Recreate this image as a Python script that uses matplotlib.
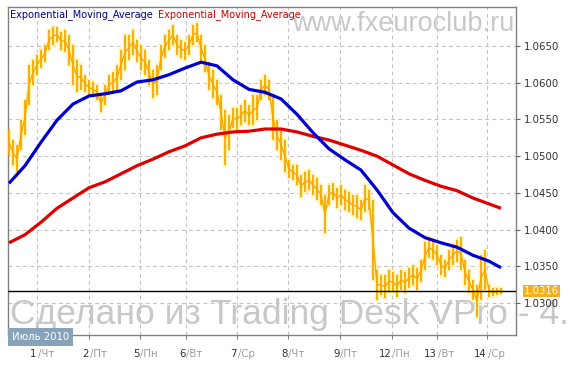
import numpy as np
import matplotlib
matplotlib.use("Agg")
import matplotlib.pyplot as plt
from matplotlib.transforms import blended_transform_factory, offset_copy

# ---------------- data ----------------
price_high = [1.0536, 1.0522, 1.0515, 1.0549, 1.0577, 1.0624, 1.0631, 1.0638, 1.0645, 1.0651,
              1.0672, 1.0676, 1.0676, 1.0669, 1.0672, 1.0665, 1.0651, 1.0631, 1.0624, 1.0611,
              1.0604, 1.0601, 1.0597, 1.0583, 1.0597, 1.0611, 1.0615, 1.0624, 1.0645, 1.0665,
              1.0665, 1.0672, 1.0658, 1.0651, 1.0645, 1.0631, 1.0617, 1.0624, 1.0651, 1.0665,
              1.0672, 1.0679, 1.0665, 1.0658, 1.0656, 1.0665, 1.0679, 1.0681, 1.0665, 1.0651,
              1.0628, 1.0617, 1.0604, 1.0583, 1.0563, 1.0556, 1.0566, 1.0566, 1.0570, 1.0577,
              1.0570, 1.0583, 1.0583, 1.0604, 1.0611, 1.0604, 1.0583, 1.0549, 1.0536, 1.0522,
              1.0495, 1.0488, 1.0488, 1.0474, 1.0478, 1.0481, 1.0474, 1.0470, 1.0461, 1.0447,
              1.0461, 1.0463, 1.0457, 1.0461, 1.0454, 1.0451, 1.0447, 1.0447, 1.0440, 1.0461,
              1.0454, 1.0440, 1.0345, 1.0338, 1.0338, 1.0345, 1.0342, 1.0338, 1.0345, 1.0342,
              1.0348, 1.0352, 1.0348, 1.0359, 1.0383, 1.0390, 1.0386, 1.0379, 1.0365, 1.0359,
              1.0372, 1.0379, 1.0386, 1.0390, 1.0359, 1.0345, 1.0331, 1.0325, 1.0365, 1.0372,
              1.0325, 1.0320, 1.0321, 1.0320]
price_low = [1.0502, 1.0488, 1.0478, 1.0508, 1.0529, 1.0570, 1.0597, 1.0611, 1.0620, 1.0628,
             1.0645, 1.0651, 1.0656, 1.0645, 1.0642, 1.0624, 1.0597, 1.0587, 1.0590, 1.0587,
             1.0583, 1.0582, 1.0577, 1.0560, 1.0570, 1.0583, 1.0587, 1.0590, 1.0604, 1.0617,
             1.0631, 1.0638, 1.0628, 1.0617, 1.0611, 1.0597, 1.0579, 1.0583, 1.0617, 1.0634,
             1.0645, 1.0651, 1.0638, 1.0634, 1.0631, 1.0638, 1.0651, 1.0656, 1.0628, 1.0615,
             1.0590, 1.0579, 1.0570, 1.0536, 1.0488, 1.0508, 1.0538, 1.0533, 1.0542, 1.0547,
             1.0542, 1.0542, 1.0549, 1.0577, 1.0583, 1.0577, 1.0522, 1.0508, 1.0495, 1.0478,
             1.0470, 1.0468, 1.0461, 1.0444, 1.0451, 1.0454, 1.0447, 1.0440, 1.0434, 1.0395,
             1.0434, 1.0440, 1.0429, 1.0434, 1.0427, 1.0424, 1.0420, 1.0416, 1.0413, 1.0424,
             1.0427, 1.0331, 1.0304, 1.0311, 1.0307, 1.0315, 1.0315, 1.0308, 1.0318, 1.0314,
             1.0320, 1.0325, 1.0318, 1.0329, 1.0345, 1.0361, 1.0359, 1.0352, 1.0338, 1.0335,
             1.0345, 1.0352, 1.0356, 1.0345, 1.0325, 1.0314, 1.0304, 1.0281, 1.0304, 1.0318,
             1.0308, 1.0310, 1.0311, 1.0312]

ema_bars = [0, 4, 8, 12, 16, 20, 24, 28, 32, 36, 40, 44, 48, 52, 56, 60,
            64, 68, 72, 76, 80, 84, 88, 92, 96, 100, 104, 108, 112, 116, 120, 123]
ema_blue = [1.0463, 1.0487, 1.0519, 1.0549, 1.0571, 1.0582, 1.0585, 1.0589, 1.0601, 1.0604,
            1.0611, 1.0620, 1.0628, 1.0623, 1.0604, 1.0591, 1.0587, 1.0578, 1.0557, 1.0532,
            1.0510, 1.0495, 1.0481, 1.0454, 1.0423, 1.0402, 1.0389, 1.0382, 1.0376, 1.0365,
            1.0357, 1.0348]
ema_red = [1.0382, 1.0393, 1.0410, 1.0429, 1.0443, 1.0457, 1.0465, 1.0476, 1.0487, 1.0496,
           1.0506, 1.0514, 1.0525, 1.0530, 1.0533, 1.0534, 1.0537, 1.0537, 1.0533, 1.0527,
           1.0522, 1.0515, 1.0508, 1.0500, 1.0488, 1.0476, 1.0467, 1.0459, 1.0453, 1.0443,
           1.0435, 1.0429]

last_price = 1.0316
y_ticks = [1.0300, 1.0350, 1.0400, 1.0450, 1.0500, 1.0550, 1.0600, 1.0650]
day_start_bars = [7, 20, 32.75, 44.25, 57, 69.75, 82.75, 95.75, 107, 119.5]
day_numbers = ["1", "2", "5", "6", "7", "8", "9", "12", "13", "14"]
day_names = ["Чт", "Пт", "Пн", "Вт", "Ср", "Чт", "Пт", "Пн", "Вт", "Ср"]
month_label = "Июль 2010"
legend_labels = ["Exponential_Moving_Average", "Exponential_Moving_Average"]

# ---------------- figure ----------------
W, H, DPI = 570, 365, 100
fig = plt.figure(figsize=(W / DPI, H / DPI), dpi=DPI, facecolor="white")
ax = fig.add_axes([8 / W, 1 - 335 / H, 508 / W, 328 / H])
ax.set_facecolor("none")
ax.set_xlim(-0.25, 126.75)
ax.set_ylim(1.02564, 1.07032)

# watermarks (behind everything)
fig.text(514 / W, 1 - 31 / H, "www.fxeuroclub.ru", ha="right", va="baseline",
         fontsize=19.5, color="#c8c8c8", family="Liberation Sans", zorder=-10)
fig.text(10 / W, 1 - 324 / H, "Сделано из Trading Desk VPro - 4.6.", ha="left",
         va="baseline", fontsize=25.5, color="#c8c8c8", family="Liberation Sans", zorder=-10)

# grid
for d in day_start_bars:
    ax.axvline(d, color="#c4c4c4", lw=0.8, ls=(0, (3.5, 3)), zorder=1)
for t in y_ticks:
    ax.axhline(t, color="#c4c4c4", lw=0.8, ls=(0, (3.5, 3)), zorder=1)

# price bars
xb = np.arange(len(price_high))
hi = np.array(price_high)
lo = np.array(price_low)
ax.vlines(xb, lo, hi, color="#fff3b0", lw=3.2, zorder=2, capstyle="round")
ax.plot(xb, (hi + lo) / 2, color="#fff3b0", lw=2.8, zorder=2)
ax.vlines(xb, lo, hi, color="#f7a800", lw=1.3, zorder=3)
ax.plot(xb, (hi + lo) / 2, color="#f7a800", lw=1.0, zorder=3)

# EMAs
ax.plot(ema_bars, ema_red, color="#e00000", lw=2.3, zorder=4, solid_capstyle="butt")
ax.plot(ema_bars, ema_blue, color="#0000d0", lw=2.3, zorder=5, solid_capstyle="butt")

# last price line
ax.axhline(last_price, color="black", lw=1.0, zorder=6)

# frame
for s in ax.spines.values():
    s.set_color("#808080")
    s.set_linewidth(1.0)

# y axis on right
ax.yaxis.tick_right()
ax.set_yticks(y_ticks)
ax.set_yticklabels([f"{t:.4f}" for t in y_ticks])
ax.tick_params(axis="y", direction="out", length=3, width=0.8, color="#606060",
               labelsize=7.3, labelcolor="#303030", pad=3)

# x axis ticks
ax.set_xticks(day_start_bars)
ax.set_xticklabels([])
ax.tick_params(axis="x", direction="out", length=3, width=0.8, color="#808080")

tr = blended_transform_factory(ax.transData, fig.transFigure)
ylab = 1 - 357 / H
for d, n, nm in zip(day_start_bars, day_numbers, day_names):
    ax.text(d, ylab, n, transform=offset_copy(tr, fig=fig, x=-0.5, units="dots"),
            ha="right", va="baseline", fontsize=7.3, color="#303030", clip_on=False)
    ax.text(d, ylab, "/" + nm, transform=offset_copy(tr, fig=fig, x=0.5, units="dots"),
            ha="left", va="baseline", fontsize=7.3, color="#9a9a9a", clip_on=False)

# current price label
fig.text(524 / W, 1 - 291 / H, f"{last_price:.4f}", ha="left", va="center",
         fontsize=7.3, color="white",
         bbox=dict(boxstyle="square,pad=0.12", fc="#f5ae1e", ec="none"))

# month box
fig.text(12 / W, 1 - 337 / H, month_label, ha="left", va="center", fontsize=7.3,
         color="white", zorder=20,
         bbox=dict(boxstyle="square,pad=0.35", fc="#87a3ba", ec="none"))

# legend text
t1 = fig.text(10 / W, 1 - 15 / H, legend_labels[0], ha="left", va="center",
              fontsize=7.0, color="#000080")
fig.canvas.draw()
bb = t1.get_window_extent()
fig.text((bb.x1 + 5) / W, 1 - 15 / H, legend_labels[1], ha="left", va="center",
         fontsize=7.0, color="#cc0000")

fig.savefig("out.png", dpi=DPI, facecolor="white")
